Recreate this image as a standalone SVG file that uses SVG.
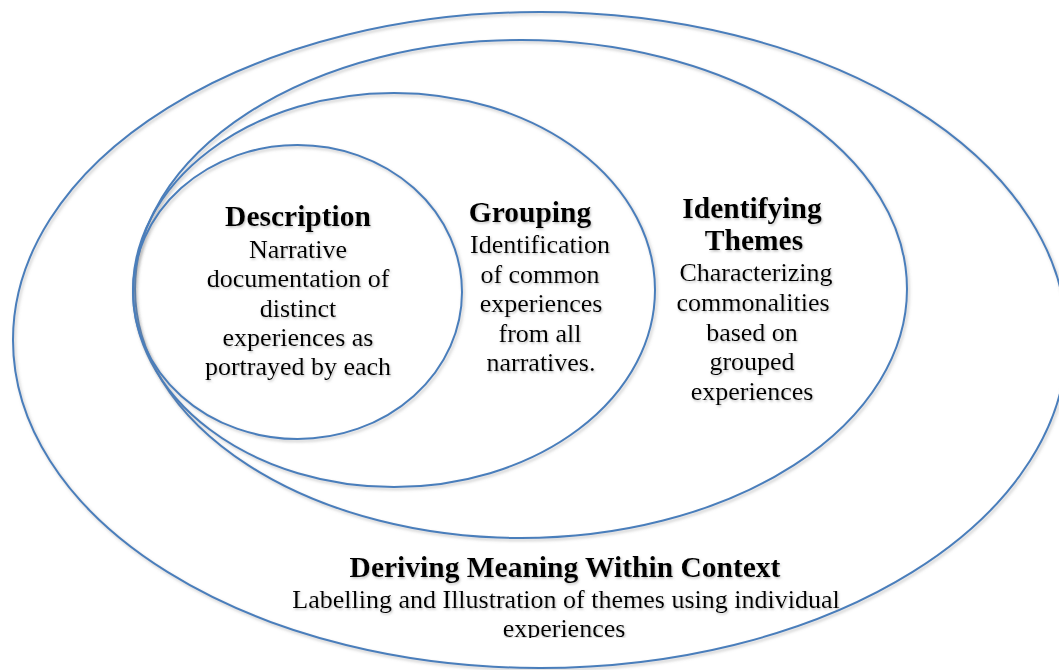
<svg xmlns="http://www.w3.org/2000/svg" width="1059" height="670" viewBox="0 0 1059 670">
  <defs>
    <filter id="soft" x="-5%" y="-5%" width="110%" height="110%">
      <feDropShadow dx="1.5" dy="2" stdDeviation="1.5" flood-color="#808080" flood-opacity="0.45"/>
    </filter>
    <filter id="txtShadow" x="-5%" y="-20%" width="110%" height="140%">
      <feDropShadow dx="1" dy="1.5" stdDeviation="1.2" flood-color="#808080" flood-opacity="0.5"/>
    </filter>
    <clipPath id="footClip">
      <rect x="0" y="0" width="1059" height="638"/>
    </clipPath>
  </defs>
  <style>
    .ring { fill: none; stroke: #4a7ebb; stroke-width: 2; filter: url(#soft); }
    .head { font-family: "Liberation Serif", "Times New Roman", serif; font-weight: bold; font-size: 29.5px; fill: #000; text-anchor: middle; filter: url(#txtShadow); }
    .body { font-family: "Liberation Serif", "Times New Roman", serif; font-size: 26px; fill: #000; text-anchor: middle; filter: url(#txtShadow); }
  </style>
  <rect width="1059" height="670" fill="#ffffff"/>

  <!-- Outermost level: deriving meaning within context -->
  <g id="deriving-meaning">
    <ellipse class="ring" cx="540" cy="340" rx="527" ry="328"/>
    <g clip-path="url(#footClip)">
      <text class="head" x="565" y="577">Deriving Meaning Within Context</text>
      <text class="body" x="566" y="608">Labelling and Illustration of themes using individual</text>
      <text class="body" x="564" y="637">experiences</text>
    </g>
  </g>

  <!-- Third level: identifying themes -->
  <g id="identifying-themes">
    <ellipse class="ring" cx="521" cy="289" rx="386" ry="249"/>
    <text class="head" x="752" y="218">Identifying</text>
    <text class="head" x="754" y="250">Themes</text>
    <text class="body" x="756" y="281">Characterizing</text>
    <text class="body" x="753" y="311">commonalities</text>
    <text class="body" x="752" y="341">based on</text>
    <text class="body" x="752" y="370">grouped</text>
    <text class="body" x="752" y="400">experiences</text>
  </g>

  <!-- Second level: grouping -->
  <g id="grouping">
    <ellipse class="ring" cx="394" cy="290" rx="261" ry="197"/>
    <text class="head" x="530" y="222">Grouping</text>
    <text class="body" x="540" y="253">Identification</text>
    <text class="body" x="540" y="283">of common</text>
    <text class="body" x="541" y="312">experiences</text>
    <text class="body" x="540" y="342">from all</text>
    <text class="body" x="541" y="371">narratives.</text>
  </g>

  <!-- Innermost level: description -->
  <g id="description">
    <ellipse class="ring" cx="297.5" cy="292" rx="164.5" ry="147"/>
    <text class="head" x="298" y="226">Description</text>
    <text class="body" x="298" y="258">Narrative</text>
    <text class="body" x="298" y="287">documentation of</text>
    <text class="body" x="298" y="317">distinct</text>
    <text class="body" x="298" y="346">experiences as</text>
    <text class="body" x="298" y="375">portrayed by each</text>
  </g>

  <!-- no connectors: levels are shown by nesting -->
  <g id="connectors"/>
</svg>
